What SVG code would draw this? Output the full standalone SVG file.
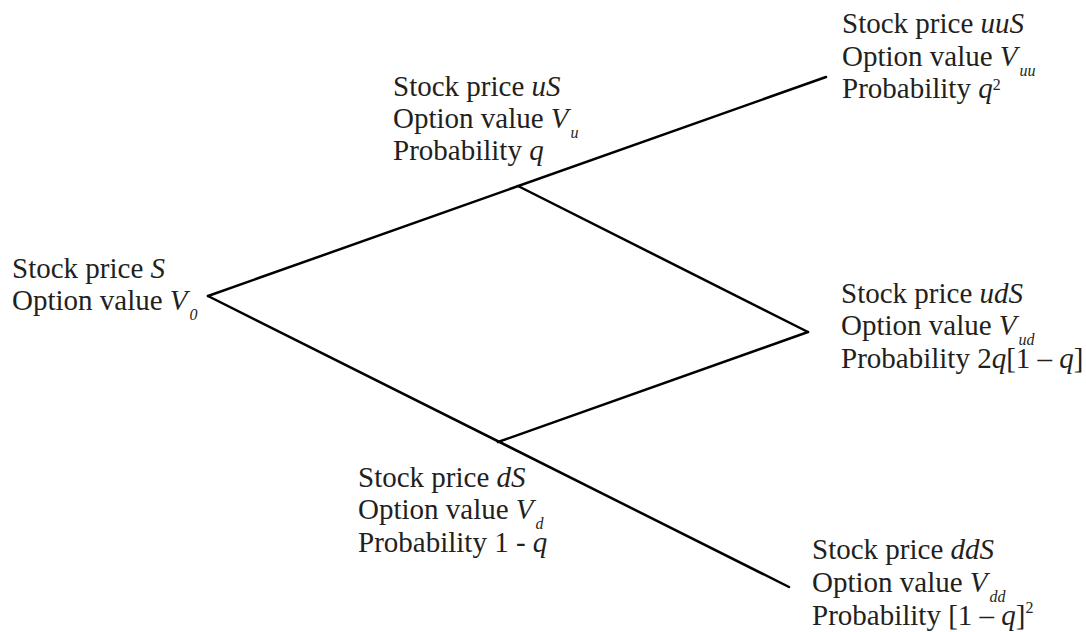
<svg xmlns="http://www.w3.org/2000/svg" width="1086" height="632" viewBox="0 0 1086 632">
<style>
text{font-family:"Liberation Serif","Times New Roman",serif;font-size:29px;fill:#231f20}
.i{font-style:italic}
.sub{font-style:italic;font-size:16px}
.sup{font-size:16px}
.conn line{stroke:#000;stroke-width:2.5;stroke-linecap:round;fill:none}
</style>
<rect width="1086" height="632" fill="#fff"/>
<g class="conn" id="connectors">
<line x1="208" y1="296" x2="826" y2="77"/>
<line x1="208" y1="296" x2="789" y2="587"/>
<line x1="518" y1="186" x2="808" y2="332"/>
<line x1="498" y1="442" x2="808" y2="332"/>
</g>
<g id="node-s">
<text x="12" y="278">Stock price <tspan class="i">S</tspan></text>
<text x="12" y="310">Option value <tspan class="i">V</tspan><tspan class="sub" dx="2" dy="10">0</tspan></text>
</g>
<g id="node-us">
<text x="393" y="96">Stock price <tspan class="i">uS</tspan></text>
<text x="393" y="128">Option value <tspan class="i">V</tspan><tspan class="sub" dx="2" dy="10">u</tspan></text>
<text x="393" y="160">Probability <tspan class="i">q</tspan></text>
</g>
<g id="node-uus">
<text x="842" y="33">Stock price <tspan class="i">uuS</tspan></text>
<text x="842" y="66">Option value <tspan class="i">V</tspan><tspan class="sub" dx="2" dy="10">uu</tspan></text>
<text x="842" y="98">Probability <tspan class="i">q</tspan><tspan class="sup" dy="-8">2</tspan></text>
</g>
<g id="node-uds">
<text x="841" y="303">Stock price <tspan class="i">udS</tspan></text>
<text x="841" y="335">Option value <tspan class="i">V</tspan><tspan class="sub" dx="2" dy="10">ud</tspan></text>
<text x="841" y="368">Probability 2<tspan class="i">q</tspan>[1 – <tspan class="i">q</tspan>]</text>
</g>
<g id="node-ds">
<text x="358" y="487">Stock price <tspan class="i">dS</tspan></text>
<text x="358" y="519">Option value <tspan class="i">V</tspan><tspan class="sub" dx="2" dy="10">d</tspan></text>
<text x="358" y="552">Probability 1 - <tspan class="i">q</tspan></text>
</g>
<g id="node-dds">
<text x="812" y="559">Stock price <tspan class="i">ddS</tspan></text>
<text x="812" y="592">Option value <tspan class="i">V</tspan><tspan class="sub" dx="2" dy="10">dd</tspan></text>
<text x="812" y="625">Probability [1 – <tspan class="i">q</tspan>]<tspan class="sup" dy="-12">2</tspan></text>
</g>
</svg>
